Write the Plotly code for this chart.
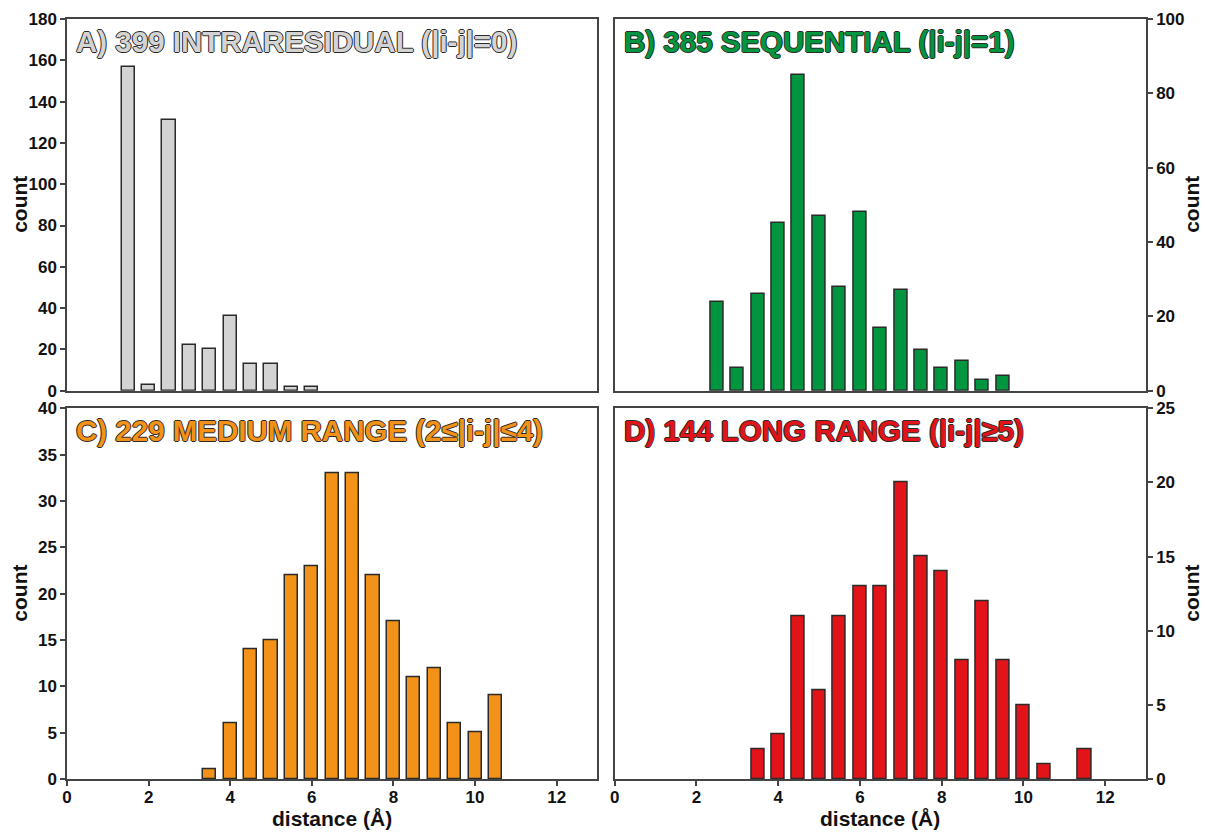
import plotly.graph_objects as go

# Distance bins (Å) and contact counts for each class of restraint
dist_a = [1.5, 2.0, 2.5, 3.0, 3.5, 4.0, 4.5, 5.0, 5.5, 6.0]
count_a = [157, 3, 131, 22, 20, 36, 13, 13, 2, 2]

dist_b = [2.5, 3.0, 3.5, 4.0, 4.5, 5.0, 5.5, 6.0, 6.5, 7.0, 7.5, 8.0, 8.5, 9.0, 9.5]
count_b = [24, 6, 26, 45, 85, 47, 28, 48, 17, 27, 11, 6, 8, 3, 4]

dist_c = [3.5, 4.0, 4.5, 5.0, 5.5, 6.0, 6.5, 7.0, 7.5, 8.0, 8.5, 9.0, 9.5, 10.0, 10.5]
count_c = [1, 6, 14, 15, 22, 23, 33, 33, 22, 17, 11, 12, 6, 5, 9]

dist_d = [3.5, 4.0, 4.5, 5.0, 5.5, 6.0, 6.5, 7.0, 7.5, 8.0, 8.5, 9.0, 9.5, 10.0, 10.5, 11.5]
count_d = [2, 3, 11, 6, 11, 13, 13, 20, 15, 14, 8, 12, 8, 5, 1, 2]

panel_titles = [
    "A) 399 INTRARESIDUAL (|i-j|=0)",
    "B) 385 SEQUENTIAL (|i-j|=1)",
    "C) 229 MEDIUM RANGE (2≤|i-j|≤4)",
    "D) 144 LONG RANGE (|i-j|≥5)",
]
panel_colors = ["#d3d3d3", "#009640", "#f39219", "#e31419"]
y_ranges = [[0, 180], [0, 100], [0, 40], [0, 25]]
y_dticks = [20, 20, 5, 5]
y_sides = ["left", "right", "left", "right"]

FONT = "Liberation Sans, Arial, Helvetica, sans-serif"
AXIS_COLOR = "#444444"
OUTLINE = "#2a2a2a"
TEXT = "#111111"

series = [(dist_a, count_a), (dist_b, count_b), (dist_c, count_c), (dist_d, count_d)]

fig = go.Figure()
for i, ((xs, ys), col) in enumerate(zip(series, panel_colors)):
    suffix = "" if i == 0 else str(i + 1)
    fig.add_trace(go.Bar(
        x=xs, y=ys, width=0.32,
        marker=dict(color=col, line=dict(color=OUTLINE, width=1.5)),
        xaxis="x" + suffix, yaxis="y" + suffix,
        showlegend=False,
    ))

x_dom_left = [0, 0.4916]
x_dom_right = [0.5076, 1]
y_dom_top = [0.5109, 1]
y_dom_bottom = [0, 0.4878]

tick_font = dict(family=FONT, size=17, color=TEXT, weight="bold")
label_font = dict(family=FONT, size=21, color=TEXT, weight="bold")

def x_axis(domain, anchor, labelled):
    ax = dict(
        domain=domain, anchor=anchor, range=[0, 13], automargin=False,
        showline=True, linecolor=AXIS_COLOR, linewidth=1.5, mirror=True,
        showgrid=False, zeroline=False,
        tickvals=[0, 2, 4, 6, 8, 10, 12],
        tickfont=tick_font,
    )
    if labelled:
        ax.update(ticks="outside", ticklen=5, tickwidth=1.5, tickcolor=AXIS_COLOR,
                  showticklabels=True, ticklabelstandoff=-3)
    else:
        ax.update(ticks="", showticklabels=False)
    return ax

def y_axis(domain, anchor, side, rng, dtick):
    return dict(
        domain=domain, anchor=anchor, side=side, range=rng, dtick=dtick, automargin=False,
        showline=True, linecolor=AXIS_COLOR, linewidth=1.5, mirror=True,
        showgrid=False, zeroline=False,
        ticks="outside", ticklen=5, tickwidth=1.5, tickcolor=AXIS_COLOR,
        tickfont=tick_font,
    )

fig.update_layout(
    width=1205, height=832,
    margin=dict(l=67, r=59, t=19, b=53, autoexpand=False),
    paper_bgcolor="white", plot_bgcolor="white",
    bargap=0,
    xaxis=x_axis(x_dom_left, "y", False),
    xaxis2=x_axis(x_dom_right, "y2", False),
    xaxis3=x_axis(x_dom_left, "y3", True),
    xaxis4=x_axis(x_dom_right, "y4", True),
    yaxis=y_axis(y_dom_top, "x", y_sides[0], y_ranges[0], y_dticks[0]),
    yaxis2=y_axis(y_dom_top, "x2", y_sides[1], y_ranges[1], y_dticks[1]),
    yaxis3=y_axis(y_dom_bottom, "x3", y_sides[2], y_ranges[2], y_dticks[2]),
    yaxis4=y_axis(y_dom_bottom, "x4", y_sides[3], y_ranges[3], y_dticks[3]),
)

# Outlined panel headings in the series colour
shadow = ", ".join(f"{dx}px {dy}px 0 {OUTLINE}" for dx, dy in
                   [(0, 1), (0, -1), (1, 0), (-1, 0)])
for i, (txt, col) in enumerate(zip(panel_titles, panel_colors)):
    suffix = "" if i == 0 else str(i + 1)
    fig.add_annotation(
        text=txt, xref=f"x{suffix} domain", yref=f"y{suffix} domain",
        x=0, y=1, xanchor="left", yanchor="top", xshift=7, yshift=-4,
        showarrow=False,
        font=dict(family=FONT, size=29.5, color=col, weight="bold", shadow=shadow),
    )

    # "count" label beside each panel's value axis
    on_left = y_sides[i] == "left"
    fig.add_annotation(
        text="count", xref=f"x{suffix} domain", yref=f"y{suffix} domain",
        x=0 if on_left else 1, y=0.5, xanchor="center", yanchor="middle",
        xshift=-47 if on_left else 46, textangle=-90,
        showarrow=False, font=label_font,
    )

    # distance label under the bottom row
    if i >= 2:
        fig.add_annotation(
            text="distance (Å)", xref=f"x{suffix} domain", yref=f"y{suffix} domain",
            x=0.5, y=0, xanchor="center", yanchor="top", yshift=-27, borderpad=0,
            showarrow=False, font=dict(family=FONT, size=21, color=TEXT, weight="bold"),
        )

fig.write_html("out.html")
